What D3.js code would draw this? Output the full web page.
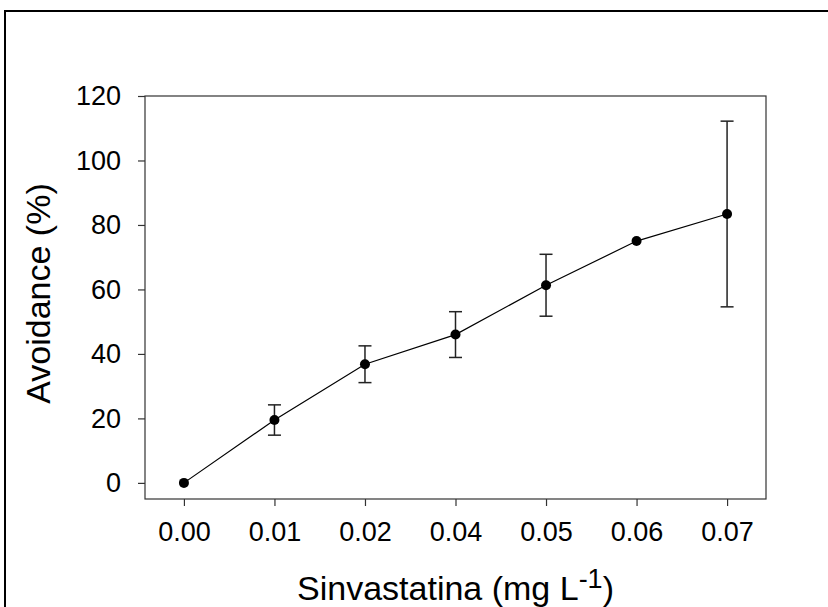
<!DOCTYPE html>
<html>
<head>
<meta charset="utf-8">
<script src="https://cdn.jsdelivr.net/npm/d3@7"></script>
<style>
  body { margin: 0; background: #fff; }
  text { font-family: "Liberation Sans", Arial, sans-serif; }
</style>
</head>
<body>
<div id="chart"></div>
<script>
// data
var doses = ["0.00", "0.01", "0.02", "0.04", "0.05", "0.06", "0.07"];
var avoidance = [0, 19.5, 36.8, 46.0, 61.3, 75.0, 83.4];
var errors = [0, 4.7, 5.7, 7.1, 9.6, 0, 28.8];
var yTicks = [0, 20, 40, 60, 80, 100, 120];

var svgWidth = 828;
var svgHeight = 607;

var margin = { top: 96, right: 62, bottom: 108, left: 145 };
var width = svgWidth - margin.left - margin.right;
var height = svgHeight - margin.top - margin.bottom;

var svg = d3.select("#chart")
  .append("svg")
  .attr("width", svgWidth)
  .attr("height", svgHeight);

// outer frame, runs off the right and bottom edges
svg.append("rect")
  .attr("x", 5)
  .attr("y", 11)
  .attr("width", svgWidth + 20)
  .attr("height", svgHeight + 20)
  .attr("fill", "none")
  .attr("stroke", "#000")
  .attr("stroke-width", 2);

var chartGroup = svg.append("g")
  .attr("transform", `translate(${margin.left}, ${margin.top})`);

var data = doses.map(function(d, i) {
  return { dose: d, value: avoidance[i], err: errors[i] };
});

var xScale = d3.scalePoint()
  .domain(doses)
  .range([0, width])
  .padding(0.43);

var yScale = d3.scaleLinear()
  .domain([-5, 120])
  .range([height, 0]);

// plot box
chartGroup.append("rect")
  .attr("width", width)
  .attr("height", height)
  .attr("fill", "none")
  .attr("stroke", "#333")
  .attr("stroke-width", 1.2);

var bottomAxis = d3.axisBottom(xScale).tickSize(7).tickSizeOuter(0).tickPadding(16);
var leftAxis = d3.axisLeft(yScale).tickValues(yTicks).tickSize(7).tickSizeOuter(0).tickPadding(17);

var xAxis = chartGroup.append("g")
  .attr("transform", `translate(0, ${height})`)
  .call(bottomAxis);

var yAxis = chartGroup.append("g")
  .call(leftAxis);

[xAxis, yAxis].forEach(function(ax) {
  ax.select(".domain").remove();
  ax.selectAll(".tick line").attr("stroke", "#333").attr("stroke-width", 1.2);
  ax.selectAll(".tick text")
    .attr("fill", "#000")
    .style("font-size", "27px");
});

// error bars
var bars = chartGroup.selectAll(".err")
  .data(data.filter(d => d.err > 0))
  .enter()
  .append("g")
  .attr("class", "err")
  .attr("stroke", "#222")
  .attr("stroke-width", 1.5);

bars.append("line")
  .attr("x1", d => xScale(d.dose))
  .attr("x2", d => xScale(d.dose))
  .attr("y1", d => yScale(d.value - d.err))
  .attr("y2", d => yScale(d.value + d.err));

bars.append("line")
  .attr("x1", d => xScale(d.dose) - 6.5)
  .attr("x2", d => xScale(d.dose) + 6.5)
  .attr("y1", d => yScale(d.value + d.err))
  .attr("y2", d => yScale(d.value + d.err));

bars.append("line")
  .attr("x1", d => xScale(d.dose) - 6.5)
  .attr("x2", d => xScale(d.dose) + 6.5)
  .attr("y1", d => yScale(d.value - d.err))
  .attr("y2", d => yScale(d.value - d.err));

// connecting line
var line = d3.line()
  .x(d => xScale(d.dose))
  .y(d => yScale(d.value));

chartGroup.append("path")
  .datum(data)
  .attr("d", line)
  .attr("fill", "none")
  .attr("stroke", "#000")
  .attr("stroke-width", 1.2);

chartGroup.selectAll("circle")
  .data(data)
  .enter()
  .append("circle")
  .attr("cx", d => xScale(d.dose))
  .attr("cy", d => yScale(d.value))
  .attr("r", 5)
  .attr("fill", "#000");

// axis titles
var xTitle = chartGroup.append("text")
  .attr("x", width / 2)
  .attr("y", height + 101)
  .attr("text-anchor", "middle")
  .style("font-size", "34px");
xTitle.append("tspan").text("Sinvastatina (mg L");
xTitle.append("tspan").attr("dy", -12).style("font-size", "27px").text("-1");
xTitle.append("tspan").attr("dy", 12).text(")");

chartGroup.append("text")
  .attr("transform", "rotate(-90)")
  .attr("x", -height / 2 + 4)
  .attr("y", -margin.left + 50)
  .attr("text-anchor", "middle")
  .style("font-size", "34px")
  .text("Avoidance (%)");
</script>
</body>
</html>
